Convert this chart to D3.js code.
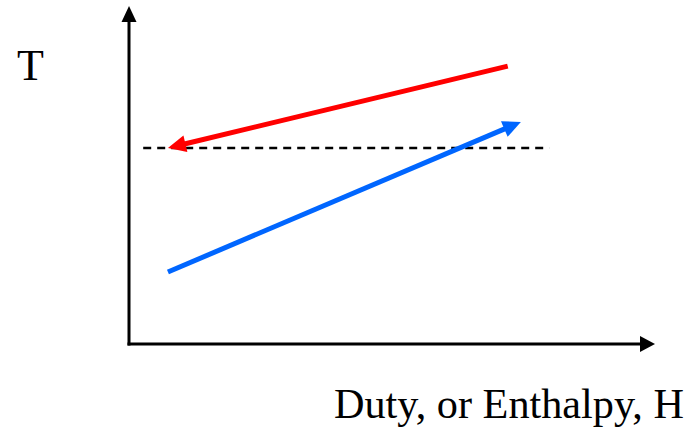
<!DOCTYPE html>
<html><head><meta charset="utf-8">
<script src="https://cdn.jsdelivr.net/npm/d3@7"></script>
<style>html,body{margin:0;padding:0;background:#fff;overflow:hidden}</style>
</head><body>
<svg id="c" width="694" height="427"></svg>
<script>
// Data (abstract units: duty H on x, temperature T on y)
const hotStream = [{h: 72.0, t: 82.2}, {h: 7.4, t: 58.0}];   // red, arrow at end
const coldStream = [{h: 7.4, t: 21.3}, {h: 74.5, t: 65.7}];  // blue, arrow at end
const pinchT = [58.0];
const pinchH = [2.7, 79.9];
const axisLabels = ["T", "Duty, or Enthalpy, H"];

const svg = d3.select("#c");
const x = d3.scaleLinear().domain([0, 100]).range([129, 655]);
const y = d3.scaleLinear().domain([0, 100]).range([344, 6]);

function arrowLine(p0, p1, color, width, headLen, headHalf) {
  const x0 = p0[0], y0 = p0[1], x1 = p1[0], y1 = p1[1];
  const dx = x1 - x0, dy = y1 - y0, L = Math.hypot(dx, dy);
  const ux = dx / L, uy = dy / L;
  const bx = x1 - ux * headLen, by = y1 - uy * headLen;
  svg.append("line").attr("x1", x0).attr("y1", y0).attr("x2", bx + ux * 1).attr("y2", by + uy * 1)
    .attr("stroke", color).attr("stroke-width", width);
  const px = -uy, py = ux;
  svg.append("path")
    .attr("d", `M${x1},${y1}L${bx + px * headHalf},${by + py * headHalf}L${bx - px * headHalf},${by - py * headHalf}Z`)
    .attr("fill", color);
}

// axes
arrowLine([x(0), y(0) + 1.5], [x(0), y(100)], "#000", 3, 16, 7.5);
arrowLine([x(0) - 1.5, y(0)], [x(100), y(0)], "#000", 3, 15, 8);

// pinch dashed line
svg.append("line")
  .attr("x1", x(pinchH[0])).attr("x2", x(pinchH[1]))
  .attr("y1", y(pinchT[0])).attr("y2", y(pinchT[0]))
  .attr("stroke", "#000").attr("stroke-width", 2.5).attr("stroke-dasharray", "8,6");

// streams
arrowLine([x(hotStream[0].h), y(hotStream[0].t)], [x(hotStream[1].h), y(hotStream[1].t)], "#FF0000", 5, 18, 8.5);
arrowLine([x(coldStream[0].h), y(coldStream[0].t)], [x(coldStream[1].h), y(coldStream[1].t)], "#0066FF", 5, 18, 8.5);

// labels
svg.append("text").attr("x", 17).attr("y", 80)
  .attr("font-family", "Liberation Serif, Times New Roman, serif").attr("font-size", 44)
  .text(axisLabels[0]);
const xl = svg.append("text").attr("x", 334).attr("y", 418)
  .attr("font-family", "Liberation Serif, Times New Roman, serif").attr("font-size", 40)
  .text(axisLabels[1]);
const w = xl.node().getComputedTextLength();
xl.attr("font-size", 40 * 350 / w);
</script>
</body></html>
